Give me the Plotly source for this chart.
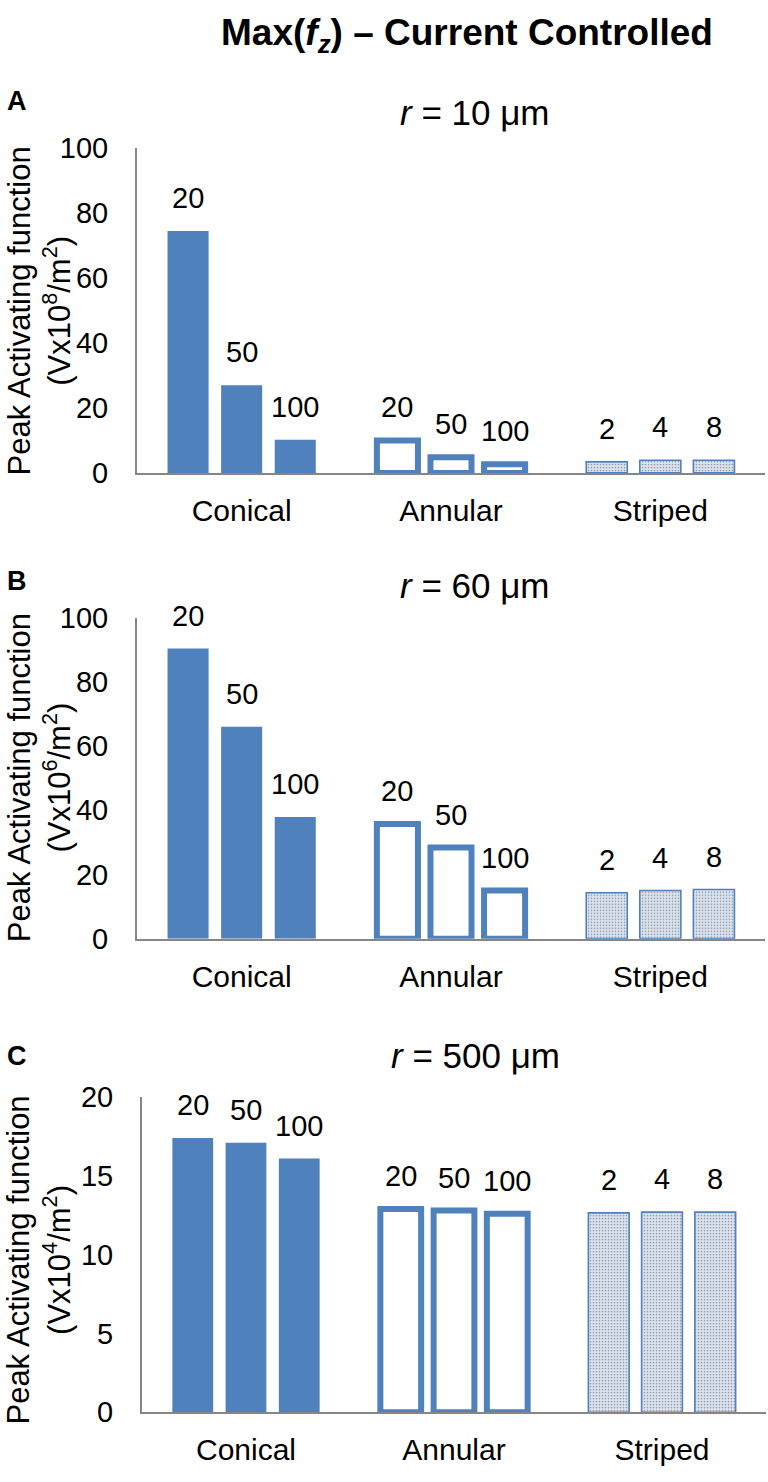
import plotly.graph_objects as go

# ---------------- data ----------------
categories = ["Conical", "Annular", "Striped"]

# sub-bar labels within each category (same order as bars)
labels_conical = ["20", "50", "100"]
labels_annular = ["20", "50", "100"]
labels_striped = ["2", "4", "8"]

# Panel A: r = 10 um  (Vx10^8/m^2)
a_conical = [74.5, 27.0, 10.2]
a_annular = [10.0, 4.8, 2.7]
a_striped = [3.4, 3.9, 3.9]

# Panel B: r = 60 um  (Vx10^6/m^2)
b_conical = [90.4, 66.0, 37.9]
b_annular = [35.7, 28.4, 15.0]
b_striped = [14.3, 15.0, 15.3]

# Panel C: r = 500 um  (Vx10^4/m^2)
c_conical = [17.4, 17.1, 16.1]
c_annular = [12.9, 12.8, 12.6]
c_striped = [12.65, 12.7, 12.7]

panel_letters = ["A", "B", "C"]
panel_titles = ["<i>r</i> = 10 μm", "<i>r</i> = 60 μm", "<i>r</i> = 500 μm"]
panel_exponents = ["8", "6", "4"]
y_ranges = [[0, 100], [0, 100], [0, 20]]
y_dticks = [20, 20, 5]

# ---------------- style ----------------
W, H = 768, 1482
BLUE = "#4f81bd"
LIGHT = "#dbe5f2"
AXIS = "#868686"
FONT = "Liberation Sans, Arial, sans-serif"

BARGAP = 0.232
BARGROUPGAP = 0.234
STEP = (1 - BARGAP) / 3.0

# pixel layout of each panel: (x_left, x_right, y_top, y_bottom)
panel_px = [
    (137, 765, 135, 467),
    (137, 765, 615, 943),
    (142, 766, 1105, 1427),
]
subtitle_y = [99, 582, 1062]
letter_y = [87, 577, 1063]
ytitle_y = [302, 779, 1272]

panels = [
    (a_conical, a_annular, a_striped),
    (b_conical, b_annular, b_striped),
    (c_conical, c_annular, c_striped),
]

fig = go.Figure()
annotations = []

def py(p):
    return 1 - p / H

for k, (con, ann, stp) in enumerate(panels):
    xs = "x" if k == 0 else f"x{k+1}"
    ys = "y" if k == 0 else f"y{k+1}"
    for j in range(3):
        vals = [con[j], ann[j], stp[j]]
        fig.add_trace(go.Bar(
            x=categories,
            y=vals,
            xaxis=xs,
            yaxis=ys,
            showlegend=False,
            hoverinfo="skip",
            marker=dict(
                color=[BLUE, "white", LIGHT],
                line=dict(color=BLUE, width=[0, 6, 1.6]),
                pattern=dict(shape=["", "", "."], fillmode="overlay",
                             fgcolor="#c2d2e9", size=3, solidity=0.25),
            ),
        ))
        texts = [labels_conical[j], labels_annular[j], labels_striped[j]]
        for i, (v, t) in enumerate(zip(vals, texts)):
            annotations.append(dict(
                x=i + (j - 1) * STEP, y=v, xref=xs, yref=ys,
                text=t, showarrow=False, yanchor="middle", xanchor="center",
                yshift=33, font=dict(family=FONT, size=29, color="black"),
            ))

    x0, x1, y0, y1 = panel_px[k]
    axx = dict(
        domain=[x0 / W, x1 / W], anchor=ys, type="category",
        categoryorder="array", categoryarray=categories, range=[-0.5, 2.5],
        showline=True, linecolor=AXIS, linewidth=2, ticks="", showgrid=False,
        zeroline=False, tickfont=dict(family=FONT, size=30, color="black"),
        ticklabelstandoff=10, fixedrange=True,
    )
    axy = dict(
        domain=[py(y1), py(y0)], anchor=xs, range=y_ranges[k], dtick=y_dticks[k],
        showline=True, linecolor=AXIS, linewidth=2, ticks="", showgrid=False,
        zeroline=False, tickfont=dict(family=FONT, size=29, color="black"),
        ticklabelstandoff=21, fixedrange=True,
    )
    fig.layout["xaxis" if k == 0 else f"xaxis{k+1}"] = axx
    fig.layout["yaxis" if k == 0 else f"yaxis{k+1}"] = axy

    # panel letter
    annotations.append(dict(
        x=17 / W, y=py(letter_y[k]), xref="paper", yref="paper",
        text=f"<b>{panel_letters[k]}</b>", showarrow=False,
        xanchor="center", yanchor="middle",
        font=dict(family=FONT, size=27, color="black"),
    ))
    # panel subtitle
    annotations.append(dict(
        x=475 / W, y=py(subtitle_y[k]), xref="paper", yref="paper",
        text=panel_titles[k], showarrow=False,
        xanchor="center", yanchor="middle",
        font=dict(family=FONT, size=35, color="black"),
    ))
    # y-axis title
    annotations.append(dict(
        x=39 / W, y=py(ytitle_y[k]), xref="paper", yref="paper",
        text=f"Peak Activating function<br>(Vx10<sup>{panel_exponents[k]}</sup>/m<sup>2</sup>)",
        showarrow=False, textangle=-90, xanchor="center", yanchor="middle",
        font=dict(family=FONT, size=31, color="black"),
    ))

# main title
annotations.append(dict(
    x=467 / W, y=py(19), xref="paper", yref="paper",
    text="<b>Max(<i>f<sub>z</sub></i>) – Current Controlled</b>",
    showarrow=False, xanchor="center", yanchor="middle",
    font=dict(family=FONT, size=37, color="black"),
))

fig.update_layout(
    width=W, height=H,
    margin=dict(l=0, r=0, t=0, b=0),
    paper_bgcolor="white", plot_bgcolor="white",
    barmode="group", bargap=BARGAP, bargroupgap=BARGROUPGAP,
    annotations=annotations,
    showlegend=False,
)

fig.write_html("out.html", config={"displayModeBar": False},
               post_script="document.body.style.margin='0';")
